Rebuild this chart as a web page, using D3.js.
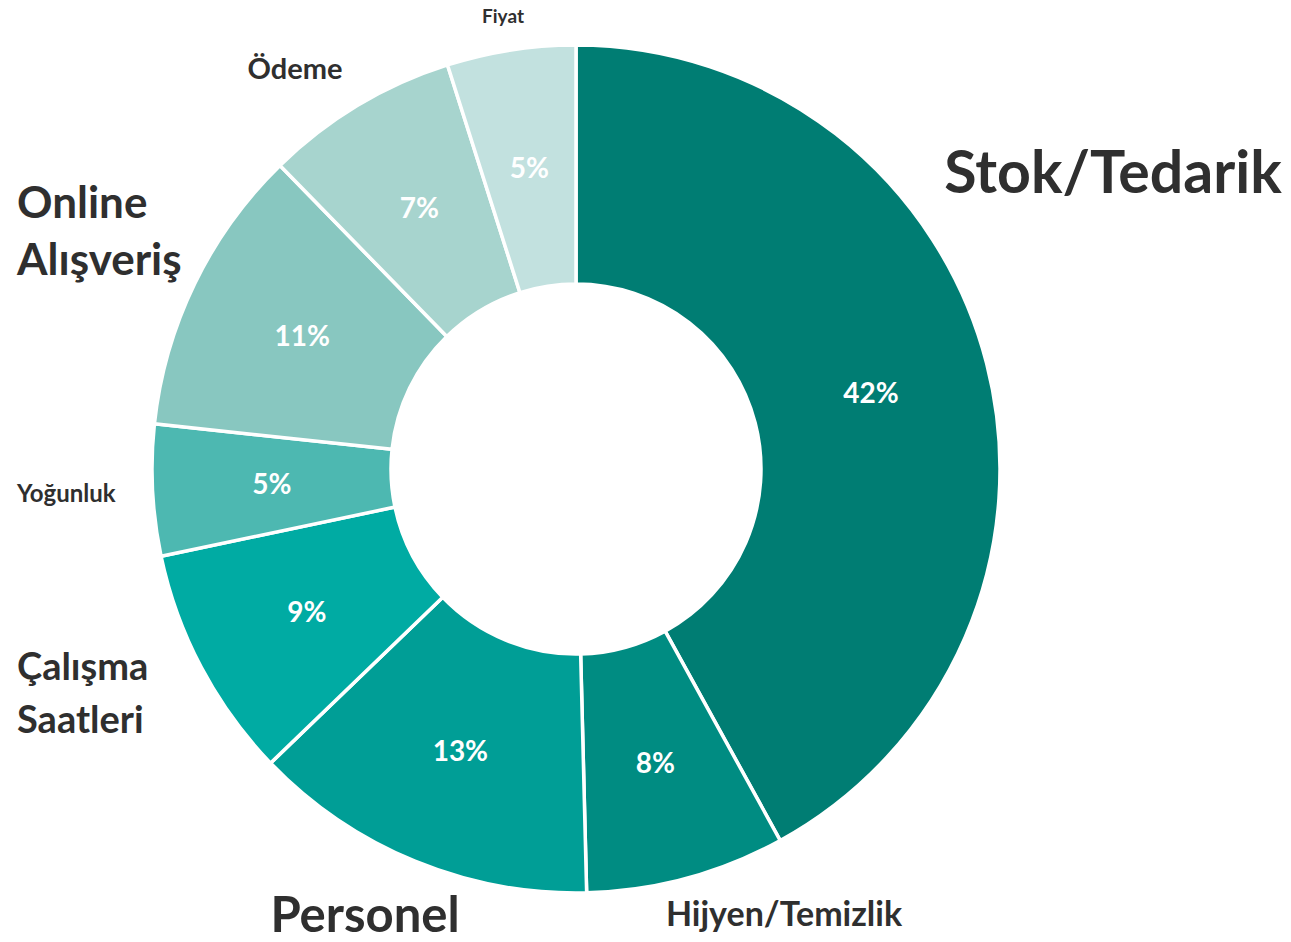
<!DOCTYPE html>
<html>
<head>
<meta charset="utf-8">
<script src="https://cdn.jsdelivr.net/npm/d3@7"></script>
<style>
  body { margin: 0; background: #fff; }
  svg { display: block; font-family: Lato, "Open Sans", sans-serif; }
</style>
</head>
<body>
<svg id="chart"></svg>
<script>
// data (share in %)
const categories = ["Stok/Tedarik", "Hijyen/Temizlik", "Personel", "Çalışma Saatleri",
                    "Yoğunluk", "Online Alışveriş", "Ödeme", "Fiyat"];
const shares = [42.0, 7.6, 13.2, 8.9, 5.0, 11.0, 7.4, 4.9];

const sliceColors = ["#007d73", "#008c82", "#009e96", "#00aba3",
                     "#4db8b1", "#88c7c0", "#a7d4ce", "#c2e1df"];

// outer category labels (Excel-style placement)
const labelLayout = {
  "Stok/Tedarik":     {x: 1113, y: 193, anchor: "middle", size: 59, lines: ["Stok/Tedarik"]},
  "Hijyen/Temizlik":  {x: 784,  y: 926, anchor: "middle", size: 34, lines: ["Hijyen/Temizlik"]},
  "Personel":         {x: 365,  y: 932, anchor: "middle", size: 49, lines: ["Personel"]},
  "Çalışma Saatleri": {x: 17,   y: 680, anchor: "start",  size: 38, lines: ["Çalışma", "Saatleri"], lh: 53},
  "Yoğunluk":         {x: 17,   y: 502, anchor: "start",  size: 24, lines: ["Yoğunluk"]},
  "Online Alışveriş": {x: 17,   y: 218, anchor: "start",  size: 44, lines: ["Online", "Alışveriş"], lh: 57},
  "Ödeme":            {x: 295,  y: 79,  anchor: "middle", size: 29, lines: ["Ödeme"]},
  "Fiyat":            {x: 503,  y: 23,  anchor: "middle", size: 19, lines: ["Fiyat"]}
};

const width = 1291, height = 942;
const cx = 576, cy = 469;
const outerR = 424, innerR = 185;

const data = categories.map((c, i) => ({category: c, share: shares[i]}));

const svg = d3.select("#chart")
    .attr("width", width)
    .attr("height", height);

const color = d3.scaleOrdinal()
    .domain(categories)
    .range(sliceColors);

const pie = d3.pie()
    .sort(null)
    .value(d => d.share);

const arc = d3.arc()
    .innerRadius(innerR)
    .outerRadius(outerR);

const g = svg.append("g")
    .attr("transform", `translate(${cx},${cy})`);

const arcs = pie(data);

g.selectAll("path")
    .data(arcs)
    .join("path")
    .attr("d", arc)
    .attr("fill", d => color(d.data.category))
    .attr("stroke", "#fff")
    .attr("stroke-width", 3.5)
    .attr("stroke-linejoin", "round");

// percentage labels at arc centroids
g.selectAll("text.pct")
    .data(arcs)
    .join("text")
    .attr("class", "pct")
    .attr("x", d => arc.centroid(d)[0])
    .attr("y", d => arc.centroid(d)[1])
    .attr("dy", "0.36em")
    .attr("text-anchor", "middle")
    .attr("fill", "#fff")
    .attr("font-weight", 700)
    .attr("font-size", 28)
    .text(d => Math.round(d.data.share) + "%");

// category labels
const labels = svg.append("g")
    .selectAll("text")
    .data(categories)
    .join("text")
    .attr("x", c => labelLayout[c].x)
    .attr("y", c => labelLayout[c].y)
    .attr("text-anchor", c => labelLayout[c].anchor)
    .attr("font-size", c => labelLayout[c].size)
    .attr("font-weight", 700)
    .attr("fill", "#2f2f2f");

labels.each(function(c) {
  const L = labelLayout[c];
  d3.select(this).selectAll("tspan")
      .data(L.lines)
      .join("tspan")
      .attr("x", L.x)
      .attr("dy", (t, i) => i === 0 ? 0 : L.lh)
      .text(t => t);
});
</script>
</body>
</html>
